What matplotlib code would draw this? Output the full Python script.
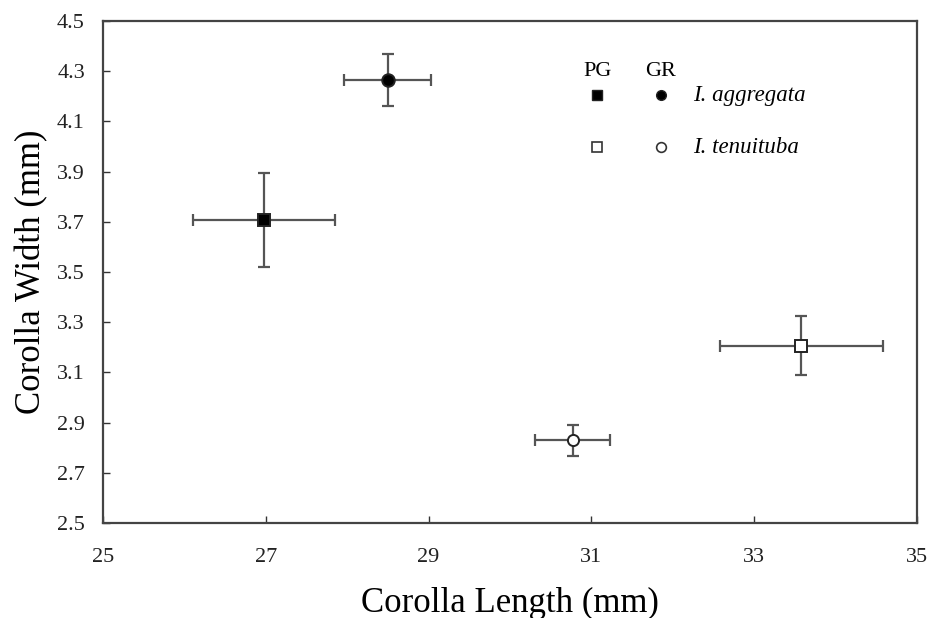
import matplotlib
matplotlib.use("Agg")
import matplotlib.pyplot as plt

plt.rcParams['font.family'] = ['Liberation Serif', 'DejaVu Serif']

# Data
labels = ["I. aggregata PG", "I. aggregata GR", "I. tenuituba PG", "I. tenuituba GR"]
length_mean = [26.98, 28.50, 33.58, 30.77]
length_err = [0.875, 0.535, 1.00, 0.46]
width_mean = [3.707, 4.265, 3.207, 2.830]
width_err = [0.188, 0.103, 0.117, 0.062]
markers = ["s", "o", "s", "o"]
facecolors = ["black", "black", "white", "white"]
msizes = [8, 9, 8, 8]

xticks = [25, 27, 29, 31, 33, 35]
yticks = [2.5, 2.7, 2.9, 3.1, 3.3, 3.5, 3.7, 3.9, 4.1, 4.3, 4.5]

fig = plt.figure(figsize=(9.3, 6.18), dpi=100)
ax = fig.add_axes([0.1108, 0.1537, 0.8752, 0.8123])

for i in range(len(labels)):
    ax.errorbar(length_mean[i], width_mean[i], xerr=length_err[i], yerr=width_err[i],
                fmt="none", ecolor="#555555", elinewidth=1.6, capsize=4, capthick=1.6, zorder=2)
    ax.plot(length_mean[i], width_mean[i], marker=markers[i], markersize=msizes[i],
            markerfacecolor=facecolors[i], markeredgecolor="#222222", markeredgewidth=1.4,
            linestyle="none", zorder=3)

# Legend drawn as in original (manual layout)
ax.text(31.07, 4.297, "PG", ha="center", va="center", fontsize=16)
ax.text(31.85, 4.297, "GR", ha="center", va="center", fontsize=16)
ax.plot(31.07, 4.205, marker="s", markersize=6.5, mfc="black", mec="#222222", ls="none")
ax.plot(31.85, 4.205, marker="o", markersize=7, mfc="black", mec="#222222", ls="none")
ax.plot(31.07, 3.998, marker="s", markersize=6.5, mfc="white", mec="#333333", mew=1.2, ls="none")
ax.plot(31.85, 3.998, marker="o", markersize=7, mfc="white", mec="#333333", mew=1.2, ls="none")
ax.text(32.25, 4.205, "I. aggregata", ha="left", va="center", fontsize=16.5, style="italic")
ax.text(32.25, 3.998, "I. tenuituba", ha="left", va="center", fontsize=16.5, style="italic")

ax.set_xlim(25, 35)
ax.set_ylim(2.5, 4.5)
ax.set_xticks(xticks)
ax.set_xticklabels([str(t) for t in xticks])
ax.set_yticks(yticks)
ax.set_yticklabels([f"{t:.1f}" for t in yticks])
ax.tick_params(direction="in", length=5, width=1, colors="#333333", labelcolor="#222222",
               labelsize=16, pad=18)
ax.tick_params(axis="y", pad=13)
for s in ax.spines.values():
    s.set_color("#444444")
    s.set_linewidth(1.6)

ax.set_xlabel("Corolla Length (mm)", fontsize=25, labelpad=14)
ax.set_ylabel("Corolla Width (mm)", fontsize=25, labelpad=6)

fig.savefig("out.png", dpi=100)
